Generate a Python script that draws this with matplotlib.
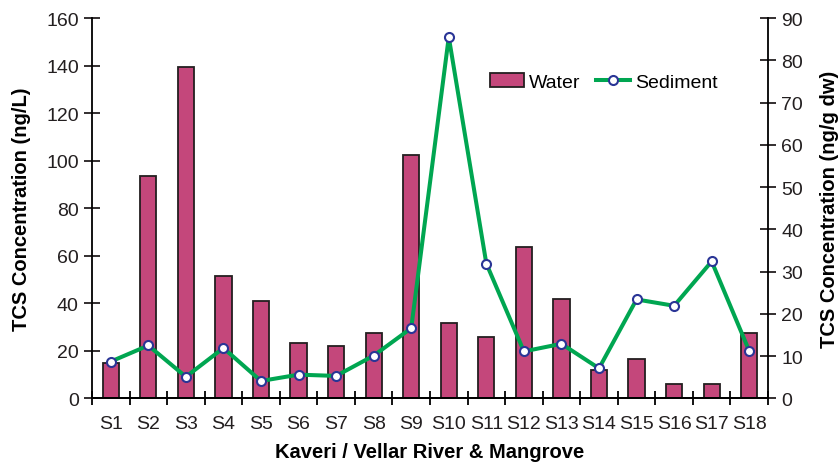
import numpy as np
import matplotlib
matplotlib.use('Agg')
import matplotlib.pyplot as plt

plt.rcParams.update({
    'font.family': ['Liberation Sans', 'DejaVu Sans'],
    'font.size': 14,
    'axes.linewidth': 1.3,
})

# ── data ────────────────────────────────────────────────────────────────────
sites = [f'S{i}' for i in range(1, 19)]
water = [14.7, 93.6, 139.4, 51.6, 41.0, 23.2, 22.0, 27.6, 102.3,
         31.8, 25.8, 63.6, 41.9, 12.0, 16.7, 6.0, 6.0, 27.6]
sediment = [8.7, 12.5, 5.1, 11.9, 4.1, 5.6, 5.3, 10.1, 16.6,
            85.5, 31.9, 11.1, 12.9, 7.1, 23.4, 21.9, 32.4, 11.2]

BAR_C = '#C4477B'
LINE_C = '#00A651'
MK_EDGE = '#2A3596'

fig = plt.figure(figsize=(8.4, 4.64), dpi=100)
ax = fig.add_axes([0.1095, 0.1394, 0.8048, 0.8196])
ax2 = ax.twinx()

x = np.arange(len(sites))
bars = ax.bar(x, water, width=0.43, color=BAR_C, edgecolor='#231F20',
              linewidth=1.3, label='Water', zorder=2)
line, = ax2.plot(x, sediment, color=LINE_C, lw=2.9, marker='o', ms=6.5,
                 mfc='white', mec=MK_EDGE, mew=1.5, label='Sediment', zorder=3)

ax.set_xlim(-0.5, len(sites) - 0.5)
ax.set_ylim(0, 160)
ax2.set_ylim(0, 90)
ax.set_yticks(np.arange(0, 161, 20))
ax2.set_yticks(np.arange(0, 91, 10))

ax.set_xticks(x)
ax.set_xticklabels(sites)
ax.set_xticks(np.arange(-0.5, len(sites), 1), minor=True)
ax.tick_params(axis='x', which='major', length=0, pad=12)
ax.tick_params(axis='x', which='minor', direction='inout', length=10, width=1.3)
ax.tick_params(axis='y', direction='inout', length=11, width=1.3, pad=4)
ax2.tick_params(axis='y', direction='inout', length=11, width=1.3, pad=4)

for a in (ax, ax2):
    a.spines['top'].set_visible(False)
    a.tick_params(labelsize=14, colors='#231F20')
ax2.spines['left'].set_visible(False)
ax.spines['right'].set_visible(False)

ax.set_ylabel('TCS Concentration (ng/L)', fontsize=14.5, fontweight='bold', labelpad=11)
ax2.set_ylabel('TCS Concentration (ng/g dw)', fontsize=14.5, fontweight='bold',
               labelpad=12)
ax.set_xlabel('Kaveri / Vellar River & Mangrove', fontsize=14.5, fontweight='bold',
              labelpad=7.5)

ax.set_zorder(ax2.get_zorder() - 1)
ax2.patch.set_visible(False)

ax2.legend([bars, line], ['Water', 'Sediment'], ncol=2, frameon=False,
           loc='center', bbox_to_anchor=(0.757, 0.832), fontsize=14,
           handlelength=1.75, handletextpad=0.25, columnspacing=0.8)

fig.savefig('out.png', dpi=100, facecolor='white')
